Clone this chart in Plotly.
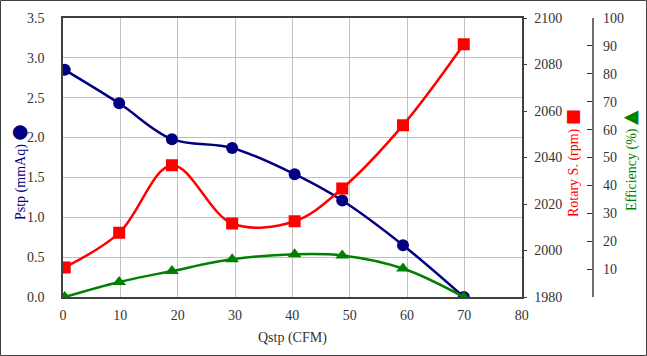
import plotly.graph_objects as go

# ---- data ----
qstp = [0.3, 9.8, 19.0, 29.5, 40.4, 48.7, 59.3, 69.9]
pstp = [2.85, 2.43, 1.98, 1.87, 1.54, 1.21, 0.65, 0.0]
rpm = [1992.7, 2007.6, 2036.7, 2011.6, 2012.6, 2026.7, 2053.9, 2088.7]
eff = [0.0, 5.4, 9.3, 13.5, 15.3, 14.9, 10.2, 0.0]

x_ticks = [0, 10, 20, 30, 40, 50, 60, 70, 80]
eff_tickvals = [0, 10, 20, 30, 40, 50, 60, 70, 80, 90, 100]
eff_ticktext = ["", "10", "20", "30", "40", "50", "60", "70", "80", "90", "100"]

NAVY = "#000080"
RED = "#FF0000"
GREEN = "#008000"
FONT = "Liberation Serif"
TICKC = "#404040"

W, H = 647, 356
ML, MT, MB, MR = 63, 18, 59, 47
PW = W - ML - MR
PH = H - MT - MB
x_end = (521.7 - ML) / PW


def px(xp):
    return (xp - ML) / PW


def py(yp):
    return (H - MB - yp) / PH


fig = go.Figure()
fig.add_trace(go.Scatter(x=qstp, y=rpm, yaxis="y2", mode="lines+markers",
                         line=dict(color=RED, width=2.5, shape="spline", smoothing=1),
                         marker=dict(symbol="square", size=12, color=RED)))
fig.add_trace(go.Scatter(x=qstp, y=eff, yaxis="y3", mode="lines+markers",
                         line=dict(color=GREEN, width=2.5, shape="spline", smoothing=1),
                         marker=dict(symbol="triangle-up", size=12, color=GREEN)))
fig.add_trace(go.Scatter(x=qstp, y=pstp, yaxis="y", mode="lines+markers",
                         line=dict(color=NAVY, width=2.5, shape="spline", smoothing=1),
                         marker=dict(symbol="circle", size=12, color=NAVY)))

tickfont = dict(family=FONT, size=14, color="#333333")

fig.update_layout(
    width=W, height=H,
    margin=dict(l=ML, r=MR, t=MT, b=MB, pad=0, autoexpand=False),
    paper_bgcolor="white", plot_bgcolor="white",
    showlegend=False,
    font=dict(family=FONT, size=14),
    xaxis=dict(domain=[0, x_end], range=[0, 80], tickvals=x_ticks, automargin=False,
               showgrid=True, gridcolor="#c0c0c0", gridwidth=1,
               showline=True, linecolor=TICKC, linewidth=1.5, mirror=True,
               ticks="outside", ticklen=0, ticklabelstandoff=4,
               tickfont=tickfont, zeroline=False),
    yaxis=dict(range=[0, 3.5], dtick=0.5, tickformat=".1f", automargin=False,
               showgrid=True, gridcolor="#c0c0c0", gridwidth=1,
               showline=True, linecolor=TICKC, linewidth=1.5,
               ticks="outside", ticklen=0, ticklabelstandoff=14,
               tickfont=tickfont, zeroline=False),
    yaxis2=dict(range=[1980, 2100], dtick=20, overlaying="y", side="right", anchor="x",
                automargin=False,
                showgrid=False, showline=True, linecolor=TICKC, linewidth=1.5,
                ticks="outside", ticklen=4, tickcolor=TICKC, ticklabelstandoff=4,
                tickfont=tickfont, zeroline=False),
    yaxis3=dict(range=[0, 100], tickvals=eff_tickvals, ticktext=eff_ticktext,
                overlaying="y", side="right", anchor="free", position=px(592.5),
                automargin=False,
                showgrid=False, showline=True, linecolor="#707070", linewidth=1.5,
                ticks="inside", ticklen=5, tickcolor="#303030", ticklabelstandoff=7,
                tickfont=tickfont, zeroline=False),
)

annots = [
    dict(x=px(292), y=py(338), text="Qstp (CFM)", textangle=0,
         font=dict(family=FONT, size=14, color="#333333")),
    dict(x=px(18), y=py(172), textangle=-90,
         text="Pstp (mmAq) <span style='font-family:DejaVu Sans;font-size:19px'>●</span>",
         font=dict(family=FONT, size=14, color=NAVY)),
    dict(x=px(572), y=py(163), textangle=-90,
         text="Rotary S. (rpm) <span style='font-family:DejaVu Sans;font-size:17px'>■</span>",
         font=dict(family=FONT, size=14, color=RED)),
    dict(x=px(629), y=py(161), textangle=-90,
         text="Efficiency (%) <span style='font-family:DejaVu Sans;font-size:19px'>▲</span>",
         font=dict(family=FONT, size=14, color=GREEN)),
]
for a in annots:
    fig.add_annotation(xref="paper", yref="paper", showarrow=False,
                       xanchor="center", yanchor="middle", **a)

# outer chart border
fig.add_shape(type="rect", xref="paper", yref="paper",
              x0=px(0.5), x1=px(W - 0.5), y0=py(H - 0.5), y1=py(0.5),
              line=dict(color="#404040", width=1), layer="below")

fig.write_html("out.html", config={"displayModeBar": False},
               post_script="document.body.style.margin='0px';document.body.style.overflow='hidden';")
